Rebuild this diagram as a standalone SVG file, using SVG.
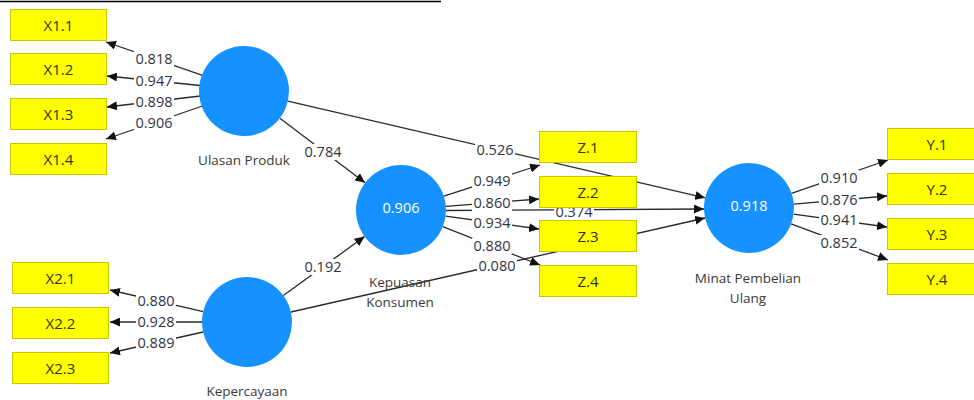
<svg xmlns="http://www.w3.org/2000/svg" width="974" height="400" viewBox="0 0 974 400">
<style>
.bg{fill:#ffffff}
.box{fill:#ffff00;stroke:#c8c800;stroke-width:1}
.lv{fill:#1592ff}
.edge{stroke:#2a2a2a;stroke-width:1.3;fill:none;marker-end:url(#ah)}
.lb{fill:#ffffff}
.num{font-family:"Open Sans","Noto Sans","Liberation Sans",sans-serif;font-size:14.5px;fill:#333344;text-anchor:middle}
.bt{font-family:"Open Sans","Noto Sans","Liberation Sans",sans-serif;font-size:15px;fill:#333300;text-anchor:middle}
.nl{font-family:"Open Sans","Noto Sans","Liberation Sans",sans-serif;font-size:13.5px;fill:#3a3a3a;text-anchor:middle}
.val{font-family:"Open Sans","Noto Sans","Liberation Sans",sans-serif;font-size:14.5px;fill:#ffffff;text-anchor:middle}
</style>
<defs>
<marker id="ah" markerUnits="userSpaceOnUse" markerWidth="11" markerHeight="9" refX="10" refY="4.5" orient="auto">
<path d="M0,0 L10,4.5 L0,9 z" fill="#111"/>
</marker>
</defs>
<rect class="bg" x="0" y="0" width="974" height="400"/>
<line x1="0" y1="1.5" x2="441" y2="1.5" stroke="#000" stroke-width="1.6"/>

<g id="connectors">
<line class="edge" x1="202.5" y1="75.3" x2="106" y2="42"/>
<line class="edge" x1="200.2" y1="85.5" x2="107" y2="76"/>
<line class="edge" x1="200.3" y1="96" x2="107" y2="107"/>
<line class="edge" x1="202.6" y1="106" x2="106" y2="139"/>
<line class="edge" x1="203.2" y1="311.7" x2="110" y2="290"/>
<line class="edge" x1="202" y1="322" x2="110" y2="322"/>
<line class="edge" x1="203.1" y1="332" x2="110" y2="353"/>
<line class="edge" x1="279.9" y1="118.2" x2="365.1" y2="182.8"/>
<line class="edge" x1="283.4" y1="295.5" x2="364.6" y2="236.5"/>
<line class="edge" x1="443.8" y1="196.1" x2="540" y2="165"/>
<line class="edge" x1="445.9" y1="206.4" x2="539" y2="199"/>
<line class="edge" x1="445.6" y1="216.1" x2="539" y2="229"/>
<line class="edge" x1="442.8" y1="226.6" x2="540" y2="265"/>
<line class="edge" x1="446" y1="210.5" x2="704" y2="209"/>
<line class="edge" x1="287.8" y1="101.2" x2="705.2" y2="197.8"/>
<line class="edge" x1="290.9" y1="312" x2="705.1" y2="218"/>
<line class="edge" x1="791.5" y1="193.3" x2="888" y2="160"/>
<line class="edge" x1="793.8" y1="204.1" x2="887" y2="196"/>
<line class="edge" x1="793.6" y1="214.1" x2="887" y2="227"/>
<line class="edge" x1="791.1" y1="223.8" x2="888" y2="260"/>

<g id="edge-labels">
<rect class="lb" x="134" y="51" width="40" height="16"/><text class="num" x="154" y="64">0.818</text>
<rect class="lb" x="134" y="73" width="40" height="16"/><text class="num" x="154" y="86">0.947</text>
<rect class="lb" x="134" y="94" width="40" height="16"/><text class="num" x="154" y="107">0.898</text>
<rect class="lb" x="134" y="115" width="40" height="16"/><text class="num" x="154" y="128">0.906</text>
<rect class="lb" x="136" y="293" width="40" height="16"/><text class="num" x="156" y="306">0.880</text>
<rect class="lb" x="136" y="314" width="40" height="16"/><text class="num" x="156" y="327">0.928</text>
<rect class="lb" x="136" y="335" width="40" height="16"/><text class="num" x="156" y="348">0.889</text>
<rect class="lb" x="303" y="144" width="40" height="16"/><text class="num" x="323" y="157">0.784</text>
<rect class="lb" x="303" y="259" width="40" height="16"/><text class="num" x="323" y="272">0.192</text>
<rect class="lb" x="472" y="173" width="40" height="16"/><text class="num" x="492" y="186">0.949</text>
<rect class="lb" x="472" y="195" width="40" height="16"/><text class="num" x="492" y="208">0.860</text>
<rect class="lb" x="472" y="215" width="40" height="16"/><text class="num" x="492" y="228">0.934</text>
<rect class="lb" x="472" y="238" width="40" height="16"/><text class="num" x="492" y="251">0.880</text>
<rect class="lb" x="554" y="204" width="40" height="16"/><text class="num" x="574" y="217">0.374</text>
<rect class="lb" x="475" y="142" width="40" height="16"/><text class="num" x="495" y="155">0.526</text>
<rect class="lb" x="477" y="258" width="40" height="16"/><text class="num" x="497" y="271">0.080</text>
<rect class="lb" x="819" y="170" width="40" height="16"/><text class="num" x="839" y="183">0.910</text>
<rect class="lb" x="819" y="192" width="40" height="16"/><text class="num" x="839" y="205">0.876</text>
<rect class="lb" x="819" y="212" width="40" height="16"/><text class="num" x="839" y="225">0.941</text>
<rect class="lb" x="819" y="235" width="40" height="16"/><text class="num" x="839" y="248">0.852</text>
</g>
</g>

<g id="X1.1"><rect class="box" x="10.5" y="9.5" width="96" height="31"/><text class="bt" x="58.5" y="30.5">X1.1</text></g>
<g id="X1.2"><rect class="box" x="10.5" y="53.5" width="96" height="31"/><text class="bt" x="58.5" y="74.5">X1.2</text></g>
<g id="X1.3"><rect class="box" x="10.5" y="98.5" width="96" height="31"/><text class="bt" x="58.5" y="119.5">X1.3</text></g>
<g id="X1.4"><rect class="box" x="10.5" y="143.5" width="96" height="31"/><text class="bt" x="58.5" y="164.5">X1.4</text></g>
<g id="X2.1"><rect class="box" x="12.5" y="262.5" width="96" height="31"/><text class="bt" x="60.5" y="283.5">X2.1</text></g>
<g id="X2.2"><rect class="box" x="12.5" y="307.5" width="96" height="31"/><text class="bt" x="60.5" y="328.5">X2.2</text></g>
<g id="X2.3"><rect class="box" x="12.5" y="352.5" width="96" height="31"/><text class="bt" x="60.5" y="373.5">X2.3</text></g>
<g id="Z.1"><rect class="box" x="539.5" y="131.5" width="97" height="31"/><text class="bt" x="588" y="152.5">Z.1</text></g>
<g id="Z.2"><rect class="box" x="539.5" y="176.5" width="97" height="31"/><text class="bt" x="588" y="197.5">Z.2</text></g>
<g id="Z.3"><rect class="box" x="539.5" y="220.5" width="97" height="31"/><text class="bt" x="588" y="241.5">Z.3</text></g>
<g id="Z.4"><rect class="box" x="539.5" y="265.5" width="97" height="31"/><text class="bt" x="588" y="286.5">Z.4</text></g>
<g id="Y.1"><rect class="box" x="887.5" y="128.5" width="97" height="31"/><text class="bt" x="937" y="149.5">Y.1</text></g>
<g id="Y.2"><rect class="box" x="887.5" y="173.5" width="97" height="31"/><text class="bt" x="937" y="194.5">Y.2</text></g>
<g id="Y.3"><rect class="box" x="887.5" y="218.5" width="97" height="31"/><text class="bt" x="937" y="239.5">Y.3</text></g>
<g id="Y.4"><rect class="box" x="887.5" y="263.5" width="97" height="31"/><text class="bt" x="937" y="284.5">Y.4</text></g>

<g id="UlasanProduk"><circle class="lv" cx="244" cy="91" r="45"/><text class="nl" x="244" y="165">Ulasan Produk</text></g>
<g id="Kepercayaan"><circle class="lv" cx="247" cy="322" r="45"/><text class="nl" x="247" y="396">Kepercayaan</text></g>
<g id="KepuasanKonsumen"><circle class="lv" cx="401" cy="210" r="45"/><text class="val" x="401" y="213">0.906</text><text class="nl" x="400" y="287">Kepuasan</text><text class="nl" x="400" y="307">Konsumen</text></g>
<g id="MinatPembelianUlang"><circle class="lv" cx="749" cy="208" r="45"/><text class="val" x="749" y="211">0.918</text><text class="nl" x="748" y="283">Minat Pembelian</text><text class="nl" x="748" y="303">Ulang</text></g>
</svg>
